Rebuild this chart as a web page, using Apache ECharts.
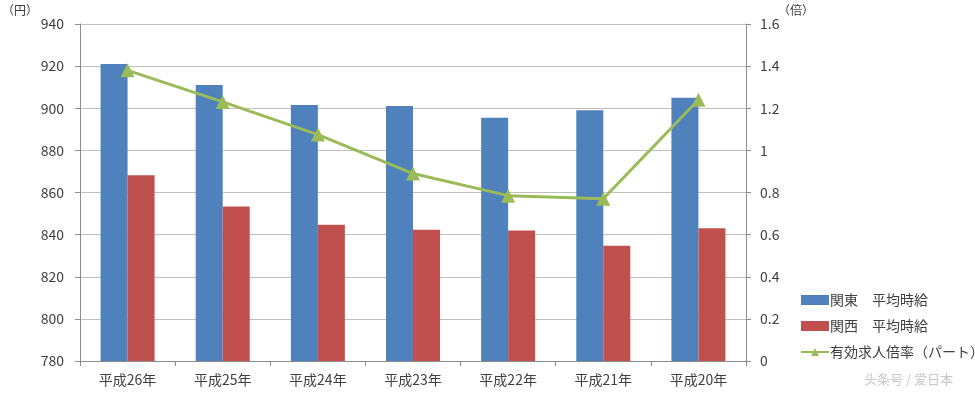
<!DOCTYPE html>
<html>
<head>
<meta charset="utf-8">
<script src="https://cdn.jsdelivr.net/npm/echarts@6/dist/echarts.min.js"></script>
<style>
html,body{margin:0;padding:0;background:#fff;}
#c{width:975px;height:394px;}
</style>
</head>
<body>
<div id="c"></div>
<script>
const categories = ['平成26年','平成25年','平成24年','平成23年','平成22年','平成21年','平成20年'];
const kantoWage = [921, 911, 901.6, 901.1, 895.5, 899, 905];
const kansaiWage = [868.2, 853.4, 844.7, 842.3, 842, 834.7, 843];
const jobRatio = [1.38, 1.23, 1.075, 0.89, 0.785, 0.77, 1.24];
const seriesNames = ['関東　平均時給', '関西　平均時給', '有効求人倍率（パート）'];

const FONT = '"Noto Sans CJK JP", "Noto Sans", sans-serif';
const TXT = '#404040';
const chart = echarts.init(document.getElementById('c'), null, {renderer: 'canvas'});
chart.setOption({
  animation: false,
  backgroundColor: '#fff',
  textStyle: {fontFamily: FONT},
  grid: {left: 80, right: 229, top: 24, bottom: 33, containLabel: false},
  legend: {
    orient: 'vertical',
    left: 795,
    top: 288,
    itemGap: 12,
    itemWidth: 28,
    itemHeight: 10,
    textStyle: {fontFamily: FONT, fontSize: 14, color: TXT, padding: [0,0,0,-4]},
    data: [
      {name: seriesNames[0], icon: 'rect'},
      {name: seriesNames[1], icon: 'rect'},
      {name: seriesNames[2]}
    ]
  },
  xAxis: {
    type: 'category',
    data: categories,
    boundaryGap: true,
    axisLine: {lineStyle: {color: '#8c8c8c', width: 1}},
    axisTick: {show: true, alignWithLabel: false, length: 5, lineStyle: {color: '#8c8c8c'}},
    axisLabel: {fontFamily: FONT, fontSize: 14, color: TXT, margin: 12}
  },
  yAxis: [
    {
      type: 'value', min: 780, max: 940, interval: 20,
      axisLine: {show: true, lineStyle: {color: '#8c8c8c'}},
      axisTick: {show: true, length: 5, lineStyle: {color: '#8c8c8c'}},
      axisLabel: {fontFamily: FONT, fontSize: 14, color: TXT, margin: 16},
      splitLine: {show: true, lineStyle: {color: '#bfbfbf', width: 1}}
    },
    {
      type: 'value', min: 0, max: 1.6, interval: 0.2,
      axisLine: {show: true, lineStyle: {color: '#8c8c8c'}},
      axisTick: {show: true, length: 5, lineStyle: {color: '#8c8c8c'}},
      axisLabel: {fontFamily: FONT, fontSize: 14, color: TXT, margin: 14},
      splitLine: {show: false}
    }
  ],
  series: [
    {
      name: seriesNames[0], type: 'bar', data: kantoWage, yAxisIndex: 0,
      barWidth: 27, barGap: '0%',
      itemStyle: {color: '#4f81bd'}
    },
    {
      name: seriesNames[1], type: 'bar', data: kansaiWage, yAxisIndex: 0,
      barWidth: 27, barGap: '0%',
      itemStyle: {color: '#c0504d'}
    },
    {
      name: seriesNames[2], type: 'line', data: jobRatio, yAxisIndex: 1,
      symbol: 'triangle', symbolSize: 14, showAllSymbol: true,
      lineStyle: {color: '#9bbb59', width: 3},
      itemStyle: {color: '#9bbb59'},
      z: 5
    }
  ],
  graphic: [
    {type: 'text', left: 2, top: 4, style: {text: '（円）', font: '12px ' + FONT, fill: TXT}},
    {type: 'text', left: 778, top: 4, style: {text: '（倍）', font: '12px ' + FONT, fill: TXT}},
    {type: 'text', left: 864, top: 373, style: {text: '头条号 / 爱日本', font: '13px ' + FONT, fill: '#c8c8c8'}}
  ]
});
</script>
</body>
</html>
